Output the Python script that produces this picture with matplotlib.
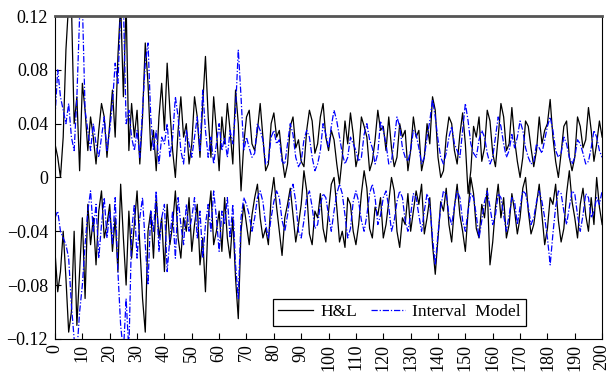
import numpy as np
import matplotlib
matplotlib.use("Agg")
import matplotlib.pyplot as plt

# values, in units of 0.001
t = np.arange(0, 201)

hl_upper = [25, 15, 0, 30, 95, 130, 130, 40, 60, 5,
            70, 50, 20, 45, 30, 10, 35, 55, 45, 15,
            40, 65, 30, 90, 130, 60, 130, 20, 55, 30,
            50, 10, 45, 100, 70, 20, 35, 5, 45, 70,
            35, 85, 50, 20, 0, 35, 60, 30, 40, 10,
            25, 60, 45, 15, 55, 90, 45, 15, 60, 35,
            5, 45, 25, 55, 35, 10, 65, 40, -10, 25,
            45, 50, 25, 20, 35, 55, 30, 5, 10, 40,
            48, 30, 35, 15, 0, 10, 38, 45, 22, 28,
            12, 8, 35, 50, 42, 18, 25, 45, 55, 30,
            20, 35, 28, 10, -5, 15, 42, 25, 48, 32,
            8, 18, 45, 38, 30, 5, 12, 28, 50, 35,
            38, 20, 45, 22, 8, 15, 40, 30, 35, 5,
            20, 45, 30, 35, 5, 15, 40, 25, 60, 50,
            15, 0, 5, 30, 45, 40, 20, 10, 32, 48,
            25, -12, 5, 38, 30, 45, 12, 22, 50, 42,
            18, 8, 30, 55, 45, 20, 25, 52, 28, 12,
            0, 15, 42, 38, 22, 8, 20, 45, 25, 35,
            40, 58, 30, 12, 0, 18, 38, 42, 15, 5,
            15, 45, 38, 22, 28, 52, 35, 12, 25, 42,
            30]

hl_lower = [-55, -85, -70, -40, -75, -115, -100, -40, -110, -70,
            -30, -90, -20, -50, -30, -65, -25, -10, -45, -35,
            -20, -55, -30, -70, -5, -45, -80, -25, -60, -35,
            -10, -50, -90, -115, -40, -25, -60, -15, -45, -30,
            -70, -20, -50, -35, -10, -45, -60, -30, -40, -15,
            -55, -35, -20, -65, -45, -85, -30, -10, -50, -40,
            -25, -55, -15, -45, -60, -30, -75, -105, -40, -20,
            -35, -50, -28, -15, -5, -30, -45, -38, -50, -15,
            0, -22, -40, -58, -30, -20, -8, -28, -48, -35,
            -20, 5, -10, -42, -50, -25, -30, -12, -38, -48,
            -25, -5, 0, -22, -48, -40, -52, -15, -20, -40,
            -50, -35, -12, 5, -8, -38, -45, -22, -28, -15,
            -45, -35, -18, 0, -10, -40, -52, -30, -35, -12,
            -40, -25, -10, -20, -5, -42, -30, -15, -50, -72,
            -45, -18, -25, -8, -35, -48, -22, -5, -28, -40,
            -55, -25, 0, -12, -38, -45, -20, -30, -8, -65,
            -48, -22, -5, -30, -15, -45, -35, -12, -25, -42,
            -30, -8, 0, -25, -42, -35, -20, -5, -28, -50,
            -38, -15, -20, -5, -32, -48, -38, -12, 5, -18,
            -30, -45, -20, -8, -28, -40, -15, -35, 0, -22,
            -35]

iv_upper = [45, 80, 60, 50, 40, 55, 30, 20, 60, 120,
            130, 50, 35, 20, 40, 25, 15, 30, 45, 20,
            35, 55, 85, 70, 125, 130, 40, 50, 30, 20,
            35, 15, 50, 85, 100, 45, 20, 35, 10, 30,
            25, 40, 15, 30, 60, 45, 20, 10, 35, 25,
            15, 30, 45, 20, 65, 35, 15, 30, 10, 25,
            40, 20, 30, 15, 35, 25, 50, 95, 60, 20,
            30, 22, 15, 18, 40, 35, 28, 10, 12, 30,
            35, 25, 28, 12, 10, 25, 40, 32, 15, 8,
            12, 28, 35, 30, 15, 5, 10, 20, 40, 32,
            22, 38, 50, 42, 30, 18, 10, 15, 30, 25,
            20, 12, 15, 32, 40, 28, 22, 10, 18, 42,
            35, 25, 10, 12, 28, 45, 38, 22, 15, 12,
            20, 35, 32, 22, 10, 15, 30, 42, 58, 45,
            28, 15, 10, 18, 30, 38, 25, 20, 15, 35,
            55, 42, 25, 18, 15, 28, 35, 30, 18, 10,
            15, 30, 45, 38, 25, 15, 20, 32, 22, 30,
            42, 35, 22, 15, 10, 12, 25, 22, 18, 28,
            38, 45, 35, 20, 15, 18, 30, 25, 15, 10,
            15, 28, 25, 18, 10, 12, 22, 35, 30, 20,
            15]

iv_lower = [-30, -25, -40, -45, -50, -60, -95, -120, -130, -100,
            -80, -50, -25, -10, -40, -20, -60, -35, -15, -45,
            -25, -50, -15, -70, -110, -130, -90, -130, -40, -20,
            -60, -30, -15, -50, -80, -25, -40, -10, -55, -30,
            -20, -70, -45, -25, -60, -15, -35, -50, -20, -40,
            -30, -15, -45, -25, -60, -35, -20, -40, -10, -30,
            -55, -25, -35, -15, -45, -20, -65, -90, -30, -15,
            -20, -28, -40, -30, -15, -10, -18, -35, -45, -30,
            -18, -10, -15, -32, -40, -28, -12, -5, -18, -40,
            -45, -32, -15, -10, -22, -38, -35, -20, -12, -15,
            -28, -40, -25, -12, -5, -12, -28, -45, -38, -18,
            -10, -18, -32, -40, -28, -12, -5, -15, -35, -28,
            -15, -10, -22, -40, -32, -18, -10, -15, -32, -40,
            -28, -12, -15, -28, -40, -25, -12, -20, -45, -65,
            -42, -22, -10, -12, -28, -35, -22, -10, -15, -32,
            -40, -25, -12, -15, -28, -45, -32, -18, -10, -22,
            -35, -28, -12, -15, -28, -40, -28, -15, -18, -35,
            -22, -10, -12, -22, -35, -30, -18, -10, -18, -30,
            -45, -65, -42, -22, -10, -12, -25, -35, -22, -10,
            -12, -28, -40, -28, -12, -15, -30, -25, -15, -20,
            -10]

y_ticks = [-0.12, -0.08, -0.04, 0, 0.04, 0.08, 0.12]
y_labels = ["\u22120.12", "\u22120.08", "\u22120.04", "0", "0.04", "0.08", "0.12"]
x_ticks = list(range(0, 201, 10))

plt.rcParams["font.family"] = ["Liberation Serif", "DejaVu Serif"]

fig = plt.figure(figsize=(6.07, 3.74), dpi=100)
ax = fig.add_axes([0.0906, 0.094, 0.9014, 0.863])

blue_ls = (0, (5, 1.5, 1, 1.5))
ax.plot(t, np.array(hl_upper) / 1000, color="black", lw=0.9, label="H&L")
ax.plot(t, np.array(iv_upper) / 1000, color="#0000ff", lw=0.9, ls=blue_ls,
        label="Interval  Model")
ax.plot(t, np.array(hl_lower) / 1000, color="black", lw=0.9)
ax.plot(t, np.array(iv_lower) / 1000, color="#0000ff", lw=0.9, ls=blue_ls)

ax.set_xlim(0, 200)
ax.set_ylim(-0.12, 0.12)
ax.set_yticks(y_ticks)
ax.set_yticklabels(y_labels)
ax.set_xticks(x_ticks)
ax.set_xticklabels([str(v) for v in x_ticks], rotation=90)
ax.tick_params(direction="in", length=4, labelsize=13, colors="black")
ax.tick_params(axis="y", pad=5)
ax.tick_params(axis="x", pad=3.5)

ax.spines["top"].set_linewidth(2)
ax.spines["top"].set_color("#555555")

leg = ax.legend(loc="center", bbox_to_anchor=(0.63, 0.082), ncol=2,
                fontsize=12.5, frameon=True, fancybox=False, framealpha=1,
                handlelength=2.0, columnspacing=0.8, borderpad=0.3,
                handletextpad=0.4)
leg.get_frame().set_edgecolor("black")
leg.get_frame().set_linewidth(0.9)

fig.savefig("out.png", dpi=100)
